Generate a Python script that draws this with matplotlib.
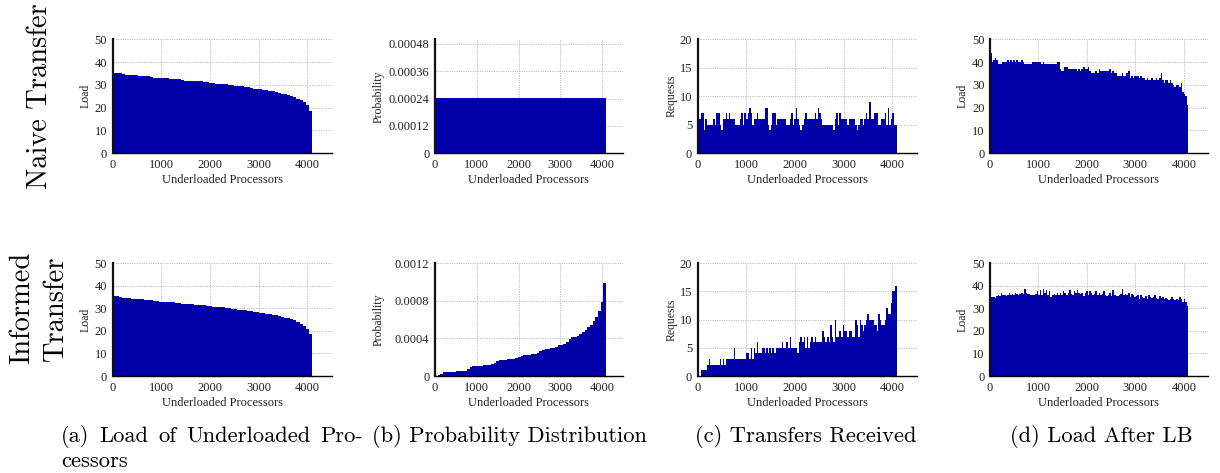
import numpy as np
import matplotlib
matplotlib.use("Agg")
import matplotlib.pyplot as plt

N_PROCS = 4096

# ---- data -------------------------------------------------------------
# Load of underloaded processors, sorted (64 blocks of 64 processors)
load_sorted = [
    35.4, 35.3, 35.1, 34.6, 34.5, 34.4, 34.3, 34.2, 34.1, 34.0, 33.9, 33.8,
    33.6, 33.2, 33.1, 33.0, 33.0, 32.9, 32.8, 32.7, 32.6, 32.4, 32.0, 31.9,
    31.9, 31.8, 31.7, 31.6, 31.5, 31.4, 31.2, 30.9, 30.7, 30.6, 30.5, 30.4,
    30.2, 30.0, 29.8, 29.6, 29.4, 29.3, 29.1, 28.9, 28.7, 28.4, 28.3, 28.1,
    27.9, 27.7, 27.5, 27.2, 26.9, 26.5, 26.2, 25.9, 25.6, 25.1, 24.7, 24.0,
    23.2, 22.3, 21.0, 18.5,
]

# Naive selection: uniform probability over all processors
prob_naive = [0.000244]

# Informed selection probability (64 blocks)
prob_informed = [
    0.0, 0.000008, 0.000025, 0.000038, 0.000042, 0.000043, 0.000044, 0.000046,
    0.000048, 0.000050, 0.000052, 0.000058, 0.000075, 0.000095, 0.000106, 0.000108,
    0.000110, 0.000111, 0.000112, 0.000114, 0.000118, 0.000125, 0.000140, 0.000165,
    0.000170, 0.000172, 0.000174, 0.000176, 0.000180, 0.000184, 0.000190, 0.000205,
    0.000215, 0.000220, 0.000223, 0.000226, 0.000229, 0.000233, 0.000245, 0.000268,
    0.000280, 0.000285, 0.000289, 0.000293, 0.000297, 0.000310, 0.000325, 0.000335,
    0.000345, 0.000360, 0.000390, 0.000412, 0.000418, 0.000425, 0.000445, 0.000470,
    0.000490, 0.000520, 0.000545, 0.000585, 0.000630, 0.000690, 0.000790, 0.000990,
]

# Transfer requests received (128 blocks of 32 processors)
req_naive = [
    10, 6, 7, 7, 4, 6, 5, 5, 5, 5, 6, 5, 7, 7, 5, 4,
    6, 6, 7, 6, 7, 6, 6, 6, 5, 5, 5, 6, 7, 5, 7, 6,
    7, 8, 7, 5, 6, 6, 7, 6, 6, 6, 6, 8, 8, 5, 4, 5,
    7, 7, 5, 6, 6, 6, 6, 6, 6, 5, 5, 6, 7, 5, 6, 8,
    6, 5, 4, 5, 6, 7, 6, 6, 6, 6, 6, 7, 6, 8, 7, 6,
    5, 5, 5, 5, 5, 5, 5, 4, 6, 7, 5, 7, 6, 6, 6, 6,
    5, 6, 6, 6, 6, 5, 4, 5, 6, 6, 5, 6, 7, 6, 9, 6,
    6, 7, 7, 7, 5, 5, 6, 6, 7, 5, 8, 5, 6, 7, 5, 5,
]

req_informed = [
    0, 0, 1, 1, 1, 1, 2, 3, 2, 2, 2, 2, 2, 2, 3, 2,
    3, 2, 3, 3, 3, 3, 3, 5, 3, 3, 3, 3, 3, 3, 3, 4,
    4, 3, 5, 3, 5, 4, 6, 4, 4, 5, 5, 4, 5, 4, 5, 4,
    5, 4, 5, 5, 5, 5, 6, 5, 5, 6, 5, 7, 5, 5, 5, 5,
    4, 6, 7, 6, 7, 5, 7, 5, 6, 7, 6, 7, 6, 6, 6, 6,
    8, 7, 6, 7, 6, 9, 7, 6, 10, 7, 7, 8, 7, 9, 8, 8,
    7, 8, 8, 7, 7, 10, 9, 7, 10, 9, 8, 9, 10, 11, 10, 10,
    10, 9, 9, 8, 11, 10, 9, 9, 10, 12, 11, 11, 13, 15, 15, 16,
]

# Load after load balancing (128 blocks of 32 processors)
load_after_naive = [
    44, 40, 41, 42, 41, 39, 39, 39, 40, 40, 40, 41, 40, 41, 40, 41,
    40, 41, 40, 40, 41, 40, 39, 39, 39, 39, 39, 40, 40, 40, 40, 40,
    40, 39, 40, 39, 39, 39, 39, 39, 39, 39, 39, 40, 40, 37, 36, 36,
    38, 38, 37, 37, 37, 37, 37, 37, 36, 37, 36, 37, 38, 37, 37, 38,
    36, 35, 35, 35, 36, 35, 37, 36, 36, 36, 36, 36, 36, 37, 35, 36,
    35, 35, 34, 34, 34, 35, 34, 34, 35, 36, 33, 34, 33, 34, 34, 34,
    33, 34, 33, 33, 32, 33, 32, 32, 33, 32, 32, 33, 32, 33, 35, 32,
    31, 32, 32, 31, 32, 31, 30, 29, 30, 30, 29, 31, 27, 26, 25, 21,
]

load_after_informed = [
    35, 35, 35, 34.5, 35.5, 36, 35.5, 37, 36, 36, 35.5, 36, 37, 36, 36.5, 36,
    37, 36.5, 36, 36.5, 37, 36.5, 38.5, 37, 36.5, 36.5, 36, 36, 36, 36.5, 37.5, 36,
    38, 36, 38.5, 37, 38, 36, 37.5, 35, 36, 36.5, 36, 37, 36, 37, 36, 37.5,
    37, 36, 37, 38, 36.5, 36, 37.5, 37, 38, 37, 36.5, 37, 35.5, 37, 37.5, 36,
    37.5, 37, 36, 36.5, 37.5, 36, 37, 36, 36.5, 37.5, 36, 35.5, 36, 37, 35.5, 38,
    36, 35.5, 35.5, 36, 36.5, 38.5, 36, 36.5, 36, 37, 35, 36.5, 36, 35, 35.5, 36,
    34, 36, 35, 34.5, 35.5, 34, 36, 35, 34.5, 35, 36, 34.5, 34, 35.5, 34.5, 35,
    34, 34.5, 34, 33.5, 34, 35, 34, 33.5, 34, 33.5, 35, 34, 33, 34, 33, 31,
]

x_ticks = [0, 1000, 2000, 3000, 4000]
x_tick_labels = ["0", "1000", "2000", "3000", "4000"]
load_ticks = [0, 10, 20, 30, 40, 50]
load_tick_labels = ["0", "10", "20", "30", "40", "50"]
prob_naive_ticks = [0, 0.00012, 0.00024, 0.00036, 0.00048]
prob_naive_tick_labels = ["0", "0.00012", "0.00024", "0.00036", "0.00048"]
prob_informed_ticks = [0, 0.0004, 0.0008, 0.0012]
prob_informed_tick_labels = ["0", "0.0004", "0.0008", "0.0012"]
req_ticks = [0, 5, 10, 15, 20]
req_tick_labels = ["0", "5", "10", "15", "20"]

row_titles = ["Naive Transfer", "Informed Transfer"]
captions = ["(a) Load of Underloaded Pro-", "(b) Probability Distribution",
            "(c) Transfers Received", "(d) Load After LB"]
caption_wrap = "cessors"
x_label = "Underloaded Processors"

# ---- style ------------------------------------------------------------
BAR = "#0000a8"
TICK_FONT = "Liberation Serif"
CAP_FONT = "cmr10"
CAP_SIZE = 16.2

W, H = 1220, 473
fig = plt.figure(figsize=(W / 100, H / 100), dpi=100)
fig.patch.set_facecolor("white")

col_px = [(112.7, 331.7), (435.0, 623.0), (697.7, 916.7), (990.0, 1208.0)]
row_px = [(39.3, 153.3), (263.3, 376.0)]
ylabel_x = [-0.122, -0.298, -0.117, -0.124]

panels = [
    [
        (load_sorted, "Load", (0, 50), load_ticks, load_tick_labels),
        (prob_naive, "Probability", (0, 0.0005), prob_naive_ticks, prob_naive_tick_labels),
        (req_naive, "Requests", (0, 20), req_ticks, req_tick_labels),
        (load_after_naive, "Load", (0, 50), load_ticks, load_tick_labels),
    ],
    [
        (load_sorted, "Load", (0, 50), load_ticks, load_tick_labels),
        (prob_informed, "Probability", (0, 0.0012), prob_informed_ticks, prob_informed_tick_labels),
        (req_informed, "Requests", (0, 20), req_ticks, req_tick_labels),
        (load_after_informed, "Load", (0, 50), load_ticks, load_tick_labels),
    ],
]

for r, row in enumerate(panels):
    y0, y1 = row_px[r]
    for c, (vals, ylab, ylim, yt, ytl) in enumerate(row):
        x0, x1 = col_px[c]
        ax = fig.add_axes([x0 / W, 1 - y1 / H, (x1 - x0) / W, (y1 - y0) / H])
        vals = np.asarray(vals, dtype=float)
        edges = np.linspace(0, N_PROCS, len(vals) + 1)
        ax.stairs(vals, edges, fill=True, color=BAR, baseline=0, lw=0, zorder=2)

        ax.set_xlim(0, 4500)
        ax.set_ylim(*ylim)
        ax.set_xticks(x_ticks)
        ax.set_xticklabels(x_tick_labels, fontfamily=TICK_FONT, fontsize=9)
        ax.set_yticks(yt)
        ax.set_yticklabels(ytl, fontfamily=TICK_FONT, fontsize=9)
        ax.tick_params(axis="both", length=0, colors="#222222")
        ax.tick_params(axis="x", pad=4.0)
        ax.tick_params(axis="y", pad=4.0)

        ax.set_axisbelow(True)
        ax.grid(True, color="#bdbdbd", lw=0.7, ls=(0, (1.2, 1.2)))

        for s in ("top", "right"):
            ax.spines[s].set_visible(False)
        ax.spines["left"].set_linewidth(1.6)
        ax.spines["left"].set_color("#111111")
        ax.spines["bottom"].set_linewidth(1.0)
        ax.spines["bottom"].set_color("black")

        ax.set_xlabel(x_label, fontfamily=TICK_FONT, fontsize=9, va="center",
                      color="#222222")
        ax.xaxis.set_label_coords(0.5, -0.236)
        ax.set_ylabel(ylab, fontfamily=TICK_FONT, fontsize=8.5, va="center",
                      color="#222222")
        ax.yaxis.set_label_coords(ylabel_x[c], 0.5)

# row titles
fig.text(40 / W, 1 - 96 / H, row_titles[0], rotation=90, ha="center", va="center",
         fontfamily=CAP_FONT, fontsize=20.5)
first, second = row_titles[1].split(" ")
fig.text(22 / W, 1 - 308 / H, first, rotation=90, ha="center", va="center",
         fontfamily=CAP_FONT, fontsize=20.5)
fig.text(56 / W, 1 - 309 / H, second, rotation=90, ha="center", va="center",
         fontfamily=CAP_FONT, fontsize=20.5)

# sub-captions; the first one is a justified two-line paragraph
renderer = fig.canvas.get_renderer()


def justified_line(words, x_left, x_right, y):
    """Place words so that the line fills x_left..x_right exactly."""
    items = [fig.text(0, 1 - y / H, w, ha="left", va="center",
                      fontfamily=CAP_FONT, fontsize=CAP_SIZE) for w in words]
    widths = [t.get_window_extent(renderer).width for t in items]
    gap = (x_right - x_left - sum(widths)) / (len(words) - 1)
    x = x_left
    for t, w in zip(items, widths):
        t.set_x(x / W)
        x += w + gap


justified_line(captions[0].split(" "), 61, 363, 436)
fig.text(61 / W, 1 - 461 / H, caption_wrap, ha="left", va="center",
         fontfamily=CAP_FONT, fontsize=CAP_SIZE)

cap_x = [372, 695, 1010]
for x, cap in zip(cap_x, captions[1:]):
    fig.text(x / W, 1 - 436 / H, cap, ha="left", va="center",
             fontfamily=CAP_FONT, fontsize=CAP_SIZE)

fig.savefig("out.png", dpi=100, facecolor="white")
